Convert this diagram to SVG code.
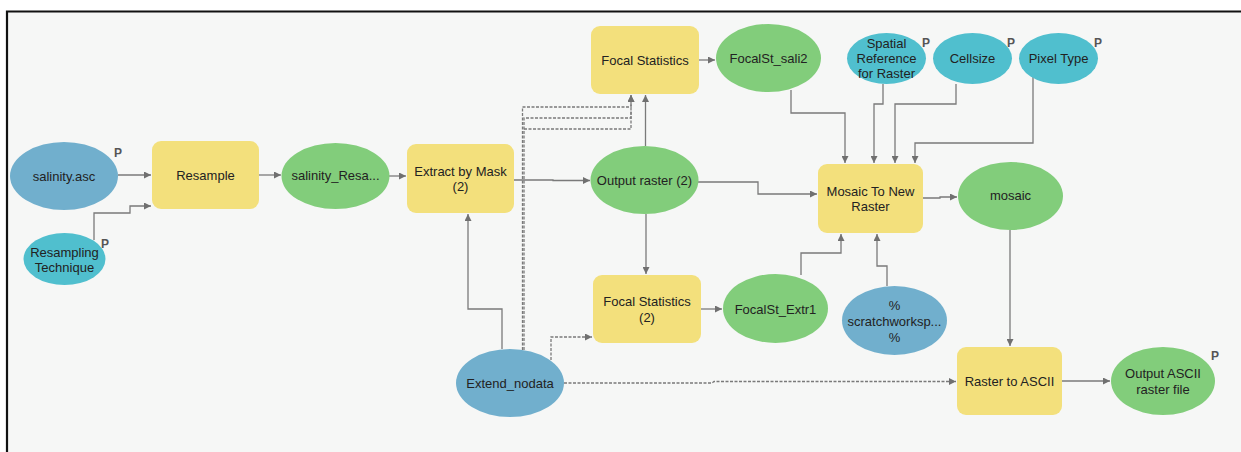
<svg xmlns="http://www.w3.org/2000/svg" width="1241" height="452" viewBox="0 0 1241 452">
<defs>
<style>
.t{font-family:"Liberation Sans",Arial,sans-serif;font-size:13px;fill:#222;text-anchor:middle;dominant-baseline:central}
.p{font-family:"Liberation Sans",Arial,sans-serif;font-size:12px;font-weight:bold;fill:#555}
.tool{fill:#f3e07c}
.der{fill:#82cd7b}
.inp{fill:#71afcd}
.par{fill:#50bfce}
.c{fill:none;stroke:#7a7a7a;stroke-width:1.3}
.d{fill:none;stroke:#7a7a7a;stroke-width:1.3;stroke-dasharray:3 1.5}
</style>
<marker id="a" viewBox="0 0 10 10" refX="10" refY="5" markerWidth="7" markerHeight="7" markerUnits="userSpaceOnUse" orient="auto">
<path d="M0,0 L10,5 L0,10 z" fill="#707070"/>
</marker>
</defs>
<rect width="1241" height="452" fill="#ffffff"/>
<rect x="7" y="12" width="1234" height="440" fill="#f6f7f6"/>
<path d="M7,452 V11.5 H1241" fill="none" stroke="#111" stroke-width="2.2"/>

<g id="connectors">
<path class="c" d="M118,175 H151" marker-end="url(#a)"/>
<path class="c" d="M94,240 V213 H130 V206 H151" marker-end="url(#a)"/>
<path class="c" d="M259,175 H281" marker-end="url(#a)"/>
<path class="c" d="M389,176 H406" marker-end="url(#a)"/>
<path class="c" d="M514,180 H553 V180.5 H590" marker-end="url(#a)"/>
<path class="c" d="M645.5,146 V95" marker-end="url(#a)"/>
<path class="c" d="M646,214 V274" marker-end="url(#a)"/>
<path class="c" d="M502,349 V309 H468 V214" marker-end="url(#a)"/>
<path class="d" d="M522.5,350 V107 H631 V95" marker-end="url(#a)"/>
<path class="d" d="M524,350 V118 H631 V95" marker-end="url(#a)"/>
<path class="d" d="M524,129 H631 V110"/>
<path class="d" d="M551,360 V337 H592" marker-end="url(#a)"/>
<path class="d" d="M564,383 H712 L714,381.5 H956" marker-end="url(#a)"/>
<path class="c" d="M699,60 H715" marker-end="url(#a)"/>
<path class="c" d="M701,309 H722" marker-end="url(#a)"/>
<path class="c" d="M698,182 H758 V194 H817" marker-end="url(#a)"/>
<path class="c" d="M791,90 V113 H845 V163" marker-end="url(#a)"/>
<path class="c" d="M883,84 V104 H874 V163" marker-end="url(#a)"/>
<path class="c" d="M956,84 V104 H895 V163" marker-end="url(#a)"/>
<path class="c" d="M1033,77 V143 H915 V163" marker-end="url(#a)"/>
<path class="c" d="M801,275 V253 H841 V234" marker-end="url(#a)"/>
<path class="c" d="M887,286 V266 H877 V234" marker-end="url(#a)"/>
<path class="c" d="M923,198 H940 V197 H957" marker-end="url(#a)"/>
<path class="c" d="M1010,230 V346" marker-end="url(#a)"/>
<path class="c" d="M1062,381 H1110" marker-end="url(#a)"/>
</g>

<g id="salinity_asc"><ellipse class="inp" cx="64" cy="176" rx="54" ry="34"/><text class="t" x="64" y="176">salinity.asc</text><text class="p" x="114" y="157">P</text></g>
<g id="resampling_technique"><ellipse class="par" cx="64.5" cy="259" rx="41" ry="26"/><text class="t" x="64.5" y="252">Resampling</text><text class="t" x="64.5" y="267">Technique</text><text class="p" x="101" y="248">P</text></g>
<g id="resample"><rect class="tool" x="152" y="141" width="107" height="68" rx="9"/><text class="t" x="205.5" y="175">Resample</text></g>
<g id="salinity_resa"><ellipse class="der" cx="335.5" cy="176" rx="54" ry="33"/><text class="t" x="335.5" y="175">salinity_Resa...</text></g>
<g id="extract_by_mask"><rect class="tool" x="407" y="144" width="107" height="69" rx="9"/><text class="t" x="460.5" y="171">Extract by Mask</text><text class="t" x="460.5" y="186">(2)</text></g>
<g id="output_raster"><ellipse class="der" cx="644.5" cy="180" rx="54" ry="34"/><text class="t" x="644.5" y="180">Output raster (2)</text></g>
<g id="focal_statistics"><rect class="tool" x="591" y="26" width="108" height="68" rx="9"/><text class="t" x="645" y="60">Focal Statistics</text></g>
<g id="focal_statistics_2"><rect class="tool" x="593" y="275" width="108" height="68" rx="9"/><text class="t" x="647" y="301">Focal Statistics</text><text class="t" x="647" y="317">(2)</text></g>
<g id="extend_nodata"><ellipse class="inp" cx="510" cy="383" rx="54" ry="34"/><text class="t" x="510" y="383">Extend_nodata</text></g>
<g id="focalst_sali2"><ellipse class="der" cx="768.5" cy="58" rx="52.5" ry="34"/><text class="t" x="768.5" y="58">FocalSt_sali2</text></g>
<g id="focalst_extr1"><ellipse class="der" cx="775.5" cy="308.5" rx="52.5" ry="34.5"/><text class="t" x="775.5" y="309">FocalSt_Extr1</text></g>
<g id="scratchworkspace"><ellipse class="inp" cx="894.5" cy="320.5" rx="52.5" ry="34.5"/><text class="t" x="894.5" y="305">%</text><text class="t" x="894.5" y="321">scratchworksp...</text><text class="t" x="894.5" y="337">%</text></g>
<g id="spatial_reference"><ellipse class="par" cx="886.5" cy="58.5" rx="39.5" ry="25.5"/><text class="t" x="886.5" y="43">Spatial</text><text class="t" x="886.5" y="58">Reference</text><text class="t" x="886.5" y="73">for Raster</text><text class="p" x="922" y="47">P</text></g>
<g id="cellsize"><ellipse class="par" cx="972.5" cy="58.5" rx="39.5" ry="25.5"/><text class="t" x="972.5" y="58">Cellsize</text><text class="p" x="1007" y="47">P</text></g>
<g id="pixel_type"><ellipse class="par" cx="1058.5" cy="58.5" rx="39.5" ry="25.5"/><text class="t" x="1058.5" y="58">Pixel Type</text><text class="p" x="1094" y="47">P</text></g>
<g id="mosaic_to_new_raster"><rect class="tool" x="818" y="164" width="105" height="69" rx="9"/><text class="t" x="870.5" y="191">Mosaic To New</text><text class="t" x="870.5" y="206">Raster</text></g>
<g id="mosaic"><ellipse class="der" cx="1010.5" cy="196" rx="52.5" ry="34"/><text class="t" x="1010.5" y="195">mosaic</text></g>
<g id="raster_to_ascii"><rect class="tool" x="957" y="347" width="105" height="68" rx="9"/><text class="t" x="1009.5" y="381">Raster to ASCII</text></g>
<g id="output_ascii"><ellipse class="der" cx="1163" cy="381" rx="52" ry="34"/><text class="t" x="1163" y="373">Output ASCII</text><text class="t" x="1163" y="389">raster file</text><text class="p" x="1211" y="360">P</text></g>
</svg>
